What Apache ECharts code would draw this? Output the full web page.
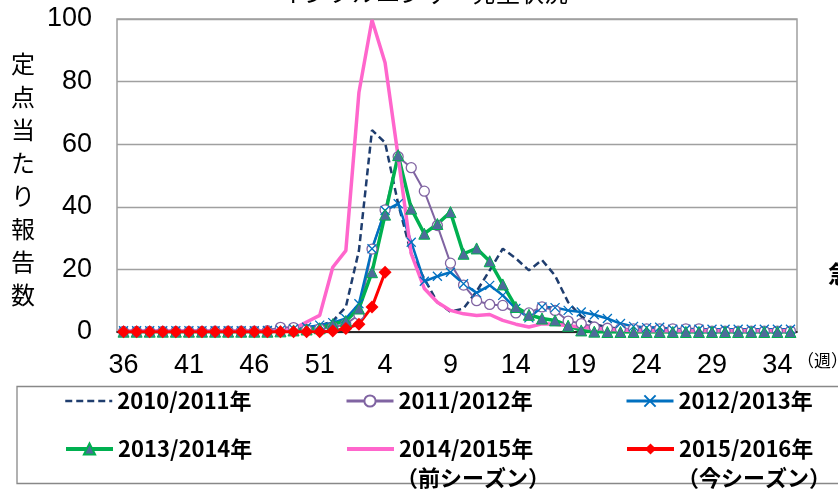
<!DOCTYPE html>
<html><head><meta charset="utf-8">
<script src="https://cdn.jsdelivr.net/npm/echarts@6/dist/echarts.min.js"></script>
<style>html,body{margin:0;padding:0;background:#fff}#c{width:838px;height:490px}</style>
</head><body><div id="c"></div>
<script>
const weeks = ['36','37','38','39','40','41','42','43','44','45','46','47','48','49','50','51','52',
  '1','2','3','4','5','6','7','8','9','10','11','12','13','14','15','16','17','18','19','20',
  '21','22','23','24','25','26','27','28','29','30','31','32','33','34','35'];
const yTicks = [0, 20, 40, 60, 80, 100];
const seriesNames = ['2010/2011年','2011/2012年','2012/2013年','2013/2014年','2014/2015年','2015/2016年'];
const s2010 = [0.2,0.2,0.2,0.2,0.2,0.3,0.3,0.3,0.3,0.4,0.5,0.6,0.7,1.0,1.4,2.0,3.5,
  8,26,64.5,60.5,41,25,17,9.5,6.5,7.5,13,19.7,26.6,23.5,19.7,23,18,9.5,5,2.5,
  1.5,1.0,0.7,0.5,0.3,0.3,0.3,0.3,0.3,0.3,0.3,0.3,0.3,0.3,0.3];
const s2011 = [0.2,0.2,0.2,0.2,0.2,0.2,0.2,0.3,0.3,0.3,0.3,0.4,1.5,1.4,0.8,1.0,1.5,
  2.5,5.5,26.5,39,56,52.5,45,34,22,15,10,8.8,8.5,6.1,6.1,8,6.9,3.5,2.7,1.6,
  1.2,1.0,1.0,1.0,1.0,1.0,1.0,1.0,0.3,0.3,0.3,0.3,0.3,0.3,0.3];
const s2012 = [0.4,0.4,0.4,0.4,0.4,0.4,0.4,0.4,0.4,0.4,0.4,0.5,0.6,1.0,1.5,2.2,3.0,
  4.3,9,26.6,38.8,41,28.7,16.2,17.8,19.1,15.4,12.5,14.9,11.7,7.5,4.5,8,7.8,6.9,6.4,5.5,
  4.3,2.7,1.8,1.4,1.5,0.9,0.9,0.9,0.9,0.9,0.9,0.9,0.9,0.9,0.9];
const s2013 = [0.1,0.1,0.1,0.1,0.1,0.1,0.1,0.1,0.1,0.1,0.1,0.1,0.2,0.5,0.8,1.2,2.5,
  3.5,7.5,19.1,37.5,56.5,39.4,31.4,34.5,38.3,25,26.7,22.6,15.2,8,5.5,4.3,3.7,2,0.5,0.1,
  0,0,0,0,0,0,0,0,0,0,0,0,0,0,0];
const s2014 = [0.3,0.3,0.3,0.3,0.3,0.3,0.3,0.3,0.3,0.3,0.3,0.3,0.4,1.0,3.2,5.3,20.7,
  26,76.5,99.7,86,56,25,13.9,9.5,6.9,5.8,5.3,5.6,3.7,2.5,1.6,2.6,2.5,2.0,1.6,1.2,
  0.9,0.6,0.5,0.4,0.4,0.4,0.4,0.4,0.4,0.4,0.4,0.4,0.4,0.4,0.4];
const s2015 = [0.1,0.1,0.1,0.1,0.1,0.1,0.1,0.1,0.1,0.1,0.1,0.1,0.1,0.1,0.1,0.1,0.3,
  1.1,2.5,8,19.1];

const chart = echarts.init(document.getElementById('c'), null, {renderer:'canvas'});
const JP = 'Noto Sans CJK JP';
const base = {type:'line', animation:false, showAllSymbol:true, connectNulls:false};
const series = [
  Object.assign({}, base, {name:seriesNames[0], data:s2010, symbol:'none',
    lineStyle:{color:'#1F3D6E', width:2.5, type:[7,4]}, itemStyle:{color:'#1F3D6E'}}),
  Object.assign({}, base, {name:seriesNames[1], data:s2011, symbol:'circle', symbolSize:10,
    lineStyle:{color:'#8064A2', width:2}, itemStyle:{color:'#ffffff', borderColor:'#8064A2', borderWidth:1.3}}),
  Object.assign({}, base, {name:seriesNames[2], data:s2012, symbol:'path://M0,0L10,10M10,0L0,10', symbolSize:9,
    lineStyle:{color:'#0070C0', width:2.5}, itemStyle:{color:'#0070C0', borderColor:'#0070C0', borderWidth:1.3}}),
  Object.assign({}, base, {name:seriesNames[3], data:s2013, symbol:'triangle', symbolSize:11,
    lineStyle:{color:'#00B050', width:3.5}, itemStyle:{color:'#4E6B9A', borderColor:'#00B050', borderWidth:1}}),
  Object.assign({}, base, {name:seriesNames[4], data:s2014, symbol:'none',
    lineStyle:{color:'#FF66CC', width:3.5}, itemStyle:{color:'#FF66CC'}}),
  Object.assign({}, base, {name:seriesNames[5], data:s2015, symbol:'diamond', symbolSize:13,
    lineStyle:{color:'#FF0000', width:3}, itemStyle:{color:'#FF0000'}})
];
const legLeft = [64, 345, 625, 64, 345, 625];
const legTop = [390, 390, 390, 438, 438, 438];
const noSymbol = [true, false, false, false, true, false];
const legLineW = [2.5, 3, 3, 4, 4, 4];
const legends = seriesNames.map((n, k) => {
  const l = {
    data:[n], left:legLeft[k], top:legTop[k], orient:'horizontal', padding:0, itemGap:0,
    itemWidth:47, itemHeight:14, selectedMode:false,
    lineStyle:{width:legLineW[k]},
    textStyle:{fontSize:22, fontWeight:'bold', fontFamily:JP, color:'#000'}
  };
  if (noSymbol[k]) l.itemStyle = {opacity:0};
  return l;
});

chart.setOption({
  backgroundColor:'#fff',
  animation:false,
  grid:{left:117, top:19, right:41, bottom:158, show:true, borderColor:'#a0a0a0', borderWidth:1.5, containLabel:false},
  xAxis:{type:'category', data:weeks, boundaryGap:true,
    axisLine:{show:true, lineStyle:{color:'#000', width:1.5}}, axisTick:{show:false},
    axisLabel:{interval:4, fontSize:27, fontFamily:'Liberation Sans', color:'#000', margin:20}},
  yAxis:{type:'value', min:yTicks[0], max:yTicks[yTicks.length-1], interval:20,
    axisLine:{show:false}, axisTick:{show:false},
    splitLine:{lineStyle:{color:'#a0a0a0', width:1.3}},
    axisLabel:{fontSize:27, fontFamily:'Liberation Sans', color:'#000', margin:25}},
  legend:legends,
  series:series,
  graphic:[
    {type:'text', left:280, top:-19, style:{text:'インフルエンザ　発生状況', font:'24px "Noto Sans CJK JP"', fill:'#000'}},
    {type:'text', left:11, top:47, style:{text:'定\n点\n当\nた\nり\n報\n告\n数', font:'24px "Noto Sans CJK JP"', lineHeight:33, fill:'#000'}},
    {type:'text', left:797, top:352, style:{text:'（週）', font:'17px "Noto Sans CJK JP"', fill:'#000'}},
    {type:'text', left:828, top:262, style:{text:'急', font:'bold 24px "Noto Sans CJK JP"', fill:'#000'}},
    {type:'rect', shape:{x:17, y:386.5, width:840, height:97}, style:{fill:'none', stroke:'#888', lineWidth:1.3}, z:-1},
    {type:'text', left:396, top:467, style:{text:'（前シーズン）', font:'bold 22px "Noto Sans CJK JP"', fill:'#000'}},
    {type:'text', left:677, top:467, style:{text:'（今シーズン）', font:'bold 22px "Noto Sans CJK JP"', fill:'#000'}}
  ]
});
</script></body></html>
